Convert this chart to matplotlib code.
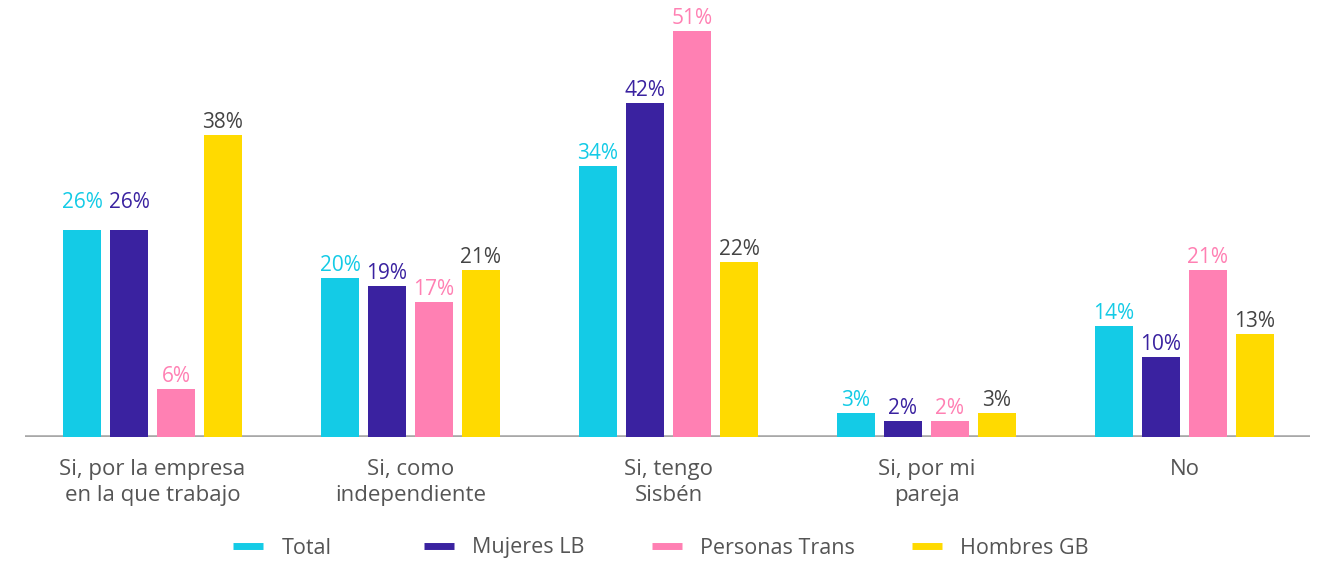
import numpy as np
import matplotlib.pyplot as plt
from matplotlib.lines import Line2D

plt.rcParams['font.family'] = ['Open Sans', 'DejaVu Sans']

categorias = ['Si, por la empresa\nen la que trabajo', 'Si, como\nindependiente',
              'Si, tengo\nSisbén', 'Si, por mi\npareja', 'No']
series = ['Total', 'Mujeres LB', 'Personas Trans', 'Hombres GB']
total = [26, 20, 34, 3, 14]
mujeres_lb = [26, 19, 42, 2, 10]
personas_trans = [6, 17, 51, 2, 21]
hombres_gb = [38, 21, 22, 3, 13]

colores = ['#14CBE6', '#3A22A0', '#FF80B3', '#FFDA00']
colores_texto = ['#14CBE6', '#3A22A0', '#FF80B3', '#444444']
gris = '#555555'

fig = plt.figure(figsize=(13.22, 5.62), dpi=100)
ax = fig.add_axes([0.0189, 0.2224, 0.9721, 0.7776])

x = np.arange(len(categorias))
ancho = 38 / 258
paso = 47 / 258
# en el original las etiquetas 26% del primer grupo van algo mas arriba
desplaz_extra = {(0, 0): 11, (1, 0): 11}
for i, valores in enumerate([total, mujeres_lb, personas_trans, hombres_gb]):
    pos = x + (i - 1.5) * paso
    barras = ax.bar(pos, valores, width=ancho, color=colores[i], zorder=3)
    for j, (b, v) in enumerate(zip(barras, valores)):
        dy = 5 + desplaz_extra.get((i, j), 0)
        ax.annotate(f'{v}%', (b.get_x() + b.get_width() / 2, v),
                    xytext=(0, dy), textcoords='offset points',
                    ha='center', va='baseline', fontsize=15,
                    color=colores_texto[i], clip_on=False)

ax.axhline(0, color='#A8A8A8', linewidth=2.6, zorder=2)
ax.set_xlim(-0.494, 4.487)
ax.set_ylim(0, 54.9)
ax.set_xticks(x)
ax.set_xticklabels(categorias, fontsize=16, color=gris, linespacing=1.3)
ax.tick_params(axis='x', length=0, pad=16)
ax.set_yticks([])
for s in ax.spines.values():
    s.set_visible(False)

# leyenda: una entrada por serie, colocada a mano
inicios = [233, 424, 652, 912]
for nombre, color, x0 in zip(series, colores, inicios):
    h = Line2D([], [], color=color, linewidth=5, solid_capstyle='butt')
    leg = fig.legend([h], [nombre], loc='center left',
                     bbox_to_anchor=(x0 / 1322, 14 / 562), frameon=False,
                     handlelength=1.4, handletextpad=0.85, borderpad=0,
                     borderaxespad=0, fontsize=15.5, labelcolor=gris)

fig.savefig('out.png', dpi=100)
